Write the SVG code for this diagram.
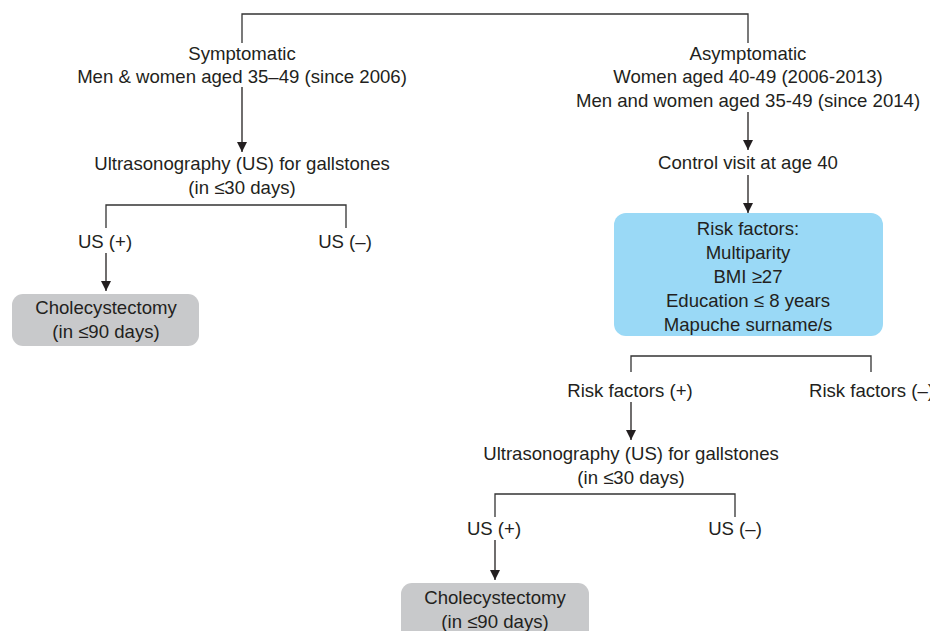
<svg xmlns="http://www.w3.org/2000/svg" width="930" height="631" viewBox="0 0 930 631">
<defs>
<marker id="ah" viewBox="0 0 10 10" refX="10" refY="5" markerWidth="10" markerHeight="10" markerUnits="userSpaceOnUse" orient="auto">
<path d="M0,0 L10,5 L0,10 Z" fill="#231f20"/>
</marker>
<style>
text{font-family:"Liberation Sans",Arial,sans-serif;font-size:18.6px;fill:#231f20;text-anchor:middle}
.ln{fill:none;stroke:#333;stroke-width:1.3}
.ar{fill:none;stroke:#231f20;stroke-width:1.3;marker-end:url(#ah)}
.gray{fill:#c8c9cb}
.blue{fill:#9ad9f6}
</style>
</defs>
<rect width="930" height="631" fill="#fff"/>
<g id="connectors">
<path class="ln" d="M242,43 V14 H748 V43"/>
<path class="ar" d="M242,87 V152"/>
<path class="ln" d="M106,228 V205 H346 V228"/>
<path class="ar" d="M106,253 V291"/>
<path class="ar" d="M748,112 V150"/>
<path class="ar" d="M748,175 V213"/>
<path class="ln" d="M631,372 V356 H871 V372"/>
<path class="ar" d="M631,402 V440"/>
<path class="ln" d="M495,517 V494 H735 V517"/>
<path class="ar" d="M495,540 V580"/>
</g>
<g id="symptomatic">
<text x="242" y="60">Symptomatic</text>
<text x="242" y="83">Men &amp; women aged 35–49 (since 2006)</text>
</g>
<g id="us-left">
<text x="242" y="170">Ultrasonography (US) for gallstones</text>
<text x="242" y="194">(in ≤30 days)</text>
</g>
<g id="us-pos-left"><text x="105" y="248">US (+)</text></g>
<g id="us-neg-left"><text x="345" y="248">US (–)</text></g>
<g id="chole-left">
<rect class="gray" x="12" y="294" width="187" height="52" rx="11"/>
<text x="106" y="314">Cholecystectomy</text>
<text x="106" y="338">(in ≤90 days)</text>
</g>
<g id="asymptomatic">
<text x="748" y="60">Asymptomatic</text>
<text x="748" y="83">Women aged 40-49 (2006-2013)</text>
<text x="748" y="107">Men and women aged 35-49 (since 2014)</text>
</g>
<g id="control"><text x="748" y="169">Control visit at age 40</text></g>
<g id="risk-factors">
<rect class="blue" x="614" y="213" width="269" height="123" rx="12"/>
<text x="748" y="235">Risk factors:</text>
<text x="748" y="259">Multiparity</text>
<text x="748" y="283">BMI ≥27</text>
<text x="748" y="307">Education ≤ 8 years</text>
<text x="748" y="331">Mapuche surname/s</text>
</g>
<g id="rf-pos"><text x="630" y="397">Risk factors (+)</text></g>
<g id="rf-neg"><text x="809" y="397" style="text-anchor:start">Risk factors (–)</text></g>
<g id="us-right">
<text x="631" y="460">Ultrasonography (US) for gallstones</text>
<text x="631" y="484">(in ≤30 days)</text>
</g>
<g id="us-pos-right"><text x="494" y="535">US (+)</text></g>
<g id="us-neg-right"><text x="735" y="535">US (–)</text></g>
<g id="chole-right">
<rect class="gray" x="401" y="583" width="188" height="60" rx="11"/>
<text x="495" y="604">Cholecystectomy</text>
<text x="495" y="628">(in ≤90 days)</text>
</g>
</svg>
